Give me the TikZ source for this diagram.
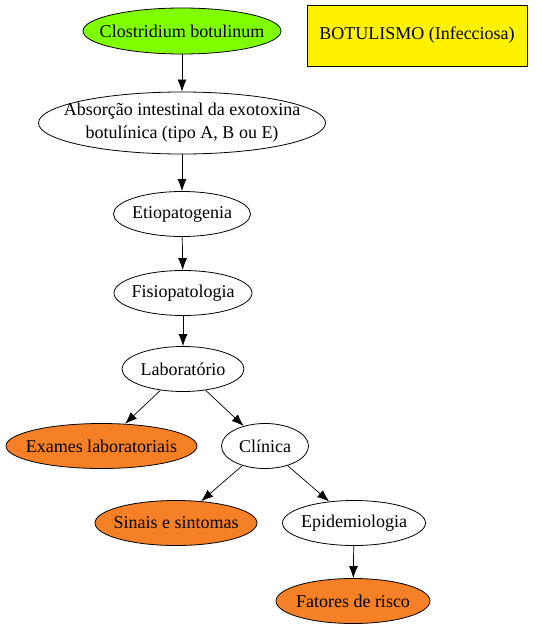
\documentclass[tikz,border=0pt]{standalone}
\usepackage{fontspec}
\setmainfont{Liberation Serif}
\usepackage{xcolor}
\usepackage{tikz}
\usetikzlibrary{arrows.meta,shapes.geometric,positioning}

\definecolor{botgreen}{RGB}{127,255,0}
\definecolor{botorange}{RGB}{246,128,38}
\newcommand{\ovaltext}[1]{\makebox[0pt]{#1}}

\begin{document}
\begin{tikzpicture}[x=1pt,y=1pt,yscale=-1,xscale=1,
  every node/.style={font=\fontsize{18}{23}\selectfont},
  oval/.style={ellipse,draw,line width=0.8pt,inner sep=0pt,minimum height=45},
  leaf/.style={oval,fill=botorange},
  arr/.style={-{Latex[length=12pt,width=9pt]},line width=0.7pt}]
\useasboundingbox (0,0) rectangle (536,629);

% Nodes
\node [oval,fill=botgreen,minimum width=198,minimum height=46] (clostridium) at (182,31) {\ovaltext{Clostridium botulinum}};
\node [draw,fill=yellow,line width=0.8pt,minimum width=220,minimum height=61] (titulo) at (417,35.5) {BOTULISMO (Infecciosa)};
\node [oval,minimum width=287,minimum height=62] (absorcao) at (182,123) {};
\node [align=center,inner sep=0pt] (absorcaotxt) at (absorcao.center) {Absorção intestinal da exotoxina\\botulínica (tipo A, B ou E)};
\node [oval,minimum width=137] (etio) at (182,214) {\ovaltext{Etiopatogenia}};
\node [oval,minimum width=138] (fisio) at (183,293) {\ovaltext{Fisiopatologia}};
\node [oval,minimum width=122] (lab) at (183,369) {\ovaltext{Laboratório}};
\node [leaf,minimum width=191] (exames) at (101.5,446) {\ovaltext{Exames laboratoriais}};
\node [oval,minimum width=87] (clinica) at (265,446) {\ovaltext{Clínica}};
\node [leaf,minimum width=162] (sinais) at (176,523) {\ovaltext{Sinais e sintomas}};
\node [oval,minimum width=143] (epid) at (354,523) {\ovaltext{Epidemiologia}};
\node [leaf,minimum width=154] (fatores) at (353,601) {\ovaltext{Fatores de risco}};

% Edges
\draw [arr] (clostridium) -- (absorcao);
\draw [arr] (absorcao) -- (etio);
\draw [arr] (etio) -- (fisio);
\draw [arr] (fisio) -- (lab);
\draw [arr] (lab) -- (exames);
\draw [arr] (lab) -- (clinica);
\draw [arr] (clinica) -- (sinais);
\draw [arr] (clinica) -- (epid);
\draw [arr] (epid) -- (fatores);

\end{tikzpicture}
\end{document}
